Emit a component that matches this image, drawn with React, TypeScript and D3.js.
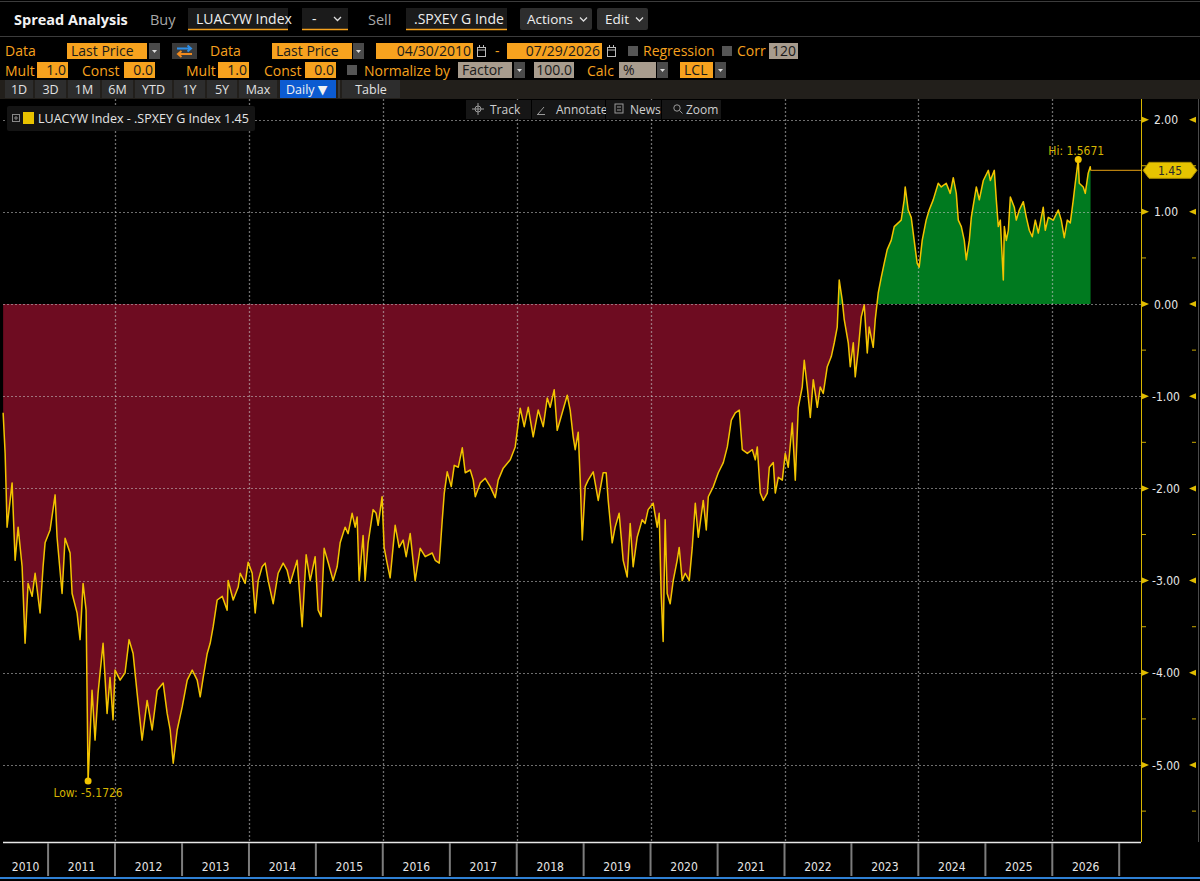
import { useMemo } from 'react'

import { area, line, maxIndex, minIndex, scaleLinear, scaleUtc } from 'd3'

// spread, LUACYW Index - .SPXEY G Index as [decimal year, value]
const drawdown2010to2013: [number, number][] = [
  [2010.328, -1.18], [2010.358, -1.62], [2010.373, -2.02], [2010.387, -2.42], [2010.462, -1.94],
  [2010.507, -2.78], [2010.552, -2.42], [2010.612, -2.85], [2010.656, -3.68], [2010.701, -3.03],
  [2010.761, -3.17], [2010.806, -2.92], [2010.88, -3.35], [2010.925, -2.85], [2010.955, -2.59],
  [2011.03, -2.45], [2011.105, -2.07], [2011.134, -2.53], [2011.209, -3.14], [2011.254, -2.54],
  [2011.329, -2.7], [2011.359, -3.14], [2011.433, -3.35], [2011.478, -3.64], [2011.523, -3.03],
  [2011.568, -3.32], [2011.598, -5.1726], [2011.657, -4.19], [2011.702, -4.73], [2011.747, -4.22],
  [2011.777, -4.0], [2011.822, -3.68], [2011.882, -4.44], [2011.926, -4.05], [2011.971, -4.51],
  [2012.001, -3.97], [2012.076, -4.08], [2012.15, -4.0], [2012.21, -3.64], [2012.27, -3.79],
  [2012.33, -4.22], [2012.404, -4.73], [2012.479, -4.3], [2012.554, -4.62], [2012.629, -4.19],
  [2012.718, -4.11], [2012.778, -4.44], [2012.823, -4.62], [2012.868, -4.98], [2012.927, -4.62],
  [2013.002, -4.37], [2013.077, -4.08], [2013.152, -3.97], [2013.226, -4.08], [2013.271, -4.26],
  [2013.316, -4.05], [2013.376, -3.79], [2013.42, -3.68], [2013.465, -3.5], [2013.525, -3.21],
  [2013.6, -3.17], [2013.674, -3.32], [2013.689, -3.0], [2013.764, -3.21], [2013.839, -3.07],
  [2013.869, -2.92], [2013.943, -3.03], [2013.988, -2.8],
]

const recovery2014to2018: [number, number][] = [
  [2014.048, -2.92], [2014.093, -3.35], [2014.138, -3.0], [2014.197, -2.85], [2014.242, -2.81],
  [2014.287, -3.0], [2014.362, -3.25], [2014.436, -2.92], [2014.511, -2.81], [2014.571, -2.89],
  [2014.616, -3.03], [2014.72, -2.78], [2014.795, -3.5], [2014.855, -2.72], [2014.915, -3.0],
  [2014.989, -2.74], [2015.034, -3.32], [2015.079, -3.39], [2015.124, -2.65], [2015.183, -2.8],
  [2015.258, -3.0], [2015.318, -2.85], [2015.363, -2.59], [2015.437, -2.42], [2015.482, -2.49],
  [2015.542, -2.27], [2015.587, -2.42], [2015.617, -2.31], [2015.647, -3.0], [2015.706, -2.51],
  [2015.736, -3.0], [2015.781, -2.59], [2015.856, -2.23], [2015.901, -2.27], [2015.931, -2.4],
  [2015.99, -2.09], [2016.02, -2.64], [2016.065, -2.81], [2016.11, -2.97], [2016.185, -2.4],
  [2016.244, -2.64], [2016.304, -2.56], [2016.349, -2.74], [2016.409, -2.49], [2016.483, -3.0],
  [2016.558, -2.65], [2016.633, -2.74], [2016.737, -2.7], [2016.782, -2.78], [2016.842, -2.81],
  [2016.887, -2.34], [2016.917, -2.05], [2016.961, -1.82], [2017.021, -1.98], [2017.066, -1.75],
  [2017.126, -1.77], [2017.186, -1.56], [2017.23, -1.83], [2017.305, -1.8], [2017.35, -1.91],
  [2017.38, -2.09], [2017.455, -1.94], [2017.529, -1.89], [2017.604, -1.98], [2017.679, -2.1],
  [2017.723, -1.91], [2017.798, -1.78], [2017.903, -1.69], [2017.977, -1.55], [2018.052, -1.13],
  [2018.112, -1.33], [2018.172, -1.12], [2018.246, -1.44], [2018.321, -1.15], [2018.396, -1.33],
  [2018.456, -1.02], [2018.5, -1.12], [2018.56, -0.93], [2018.605, -1.37], [2018.68, -1.18],
  [2018.755, -0.99], [2018.799, -1.15], [2018.844, -1.44], [2018.874, -1.58], [2018.919, -1.39],
  [2018.949, -1.91], [2018.979, -2.56],
]

const swing2019to2022: [number, number][] = [
  [2019.023, -1.98], [2019.068, -1.91], [2019.143, -1.82], [2019.218, -2.13], [2019.292, -1.83],
  [2019.337, -1.83], [2019.367, -2.13], [2019.427, -2.59], [2019.471, -2.42], [2019.531, -2.27],
  [2019.591, -2.78], [2019.651, -2.96], [2019.696, -2.38], [2019.74, -2.85], [2019.8, -2.53],
  [2019.875, -2.34], [2019.919, -2.38], [2019.964, -2.23], [2020.039, -2.16], [2020.099, -2.42],
  [2020.129, -2.27], [2020.158, -3.14], [2020.188, -3.66], [2020.218, -2.34], [2020.248, -3.14],
  [2020.293, -3.25], [2020.338, -3.0], [2020.397, -2.78], [2020.427, -2.64], [2020.472, -3.0],
  [2020.517, -2.92], [2020.577, -3.0], [2020.622, -2.64], [2020.667, -2.16], [2020.712, -2.53],
  [2020.786, -2.13], [2020.831, -2.45], [2020.861, -2.09], [2020.936, -1.98], [2021.01, -1.83],
  [2021.085, -1.72], [2021.145, -1.55], [2021.205, -1.26], [2021.264, -1.18], [2021.324, -1.15],
  [2021.369, -1.58], [2021.444, -1.62], [2021.519, -1.58], [2021.563, -1.69], [2021.593, -1.55],
  [2021.638, -2.05], [2021.683, -2.13], [2021.743, -2.05], [2021.773, -1.77], [2021.832, -1.72],
  [2021.862, -2.05], [2021.907, -1.88], [2021.967, -1.91], [2022.011, -1.62], [2022.056, -1.77],
  [2022.116, -1.29], [2022.161, -1.91], [2022.206, -1.12], [2022.265, -0.9], [2022.295, -0.61],
  [2022.34, -0.9], [2022.385, -1.23], [2022.43, -0.82], [2022.49, -1.12], [2022.534, -0.9],
  [2022.579, -0.97], [2022.639, -0.68], [2022.699, -0.57], [2022.744, -0.42], [2022.788, -0.25],
  [2022.818, 0.26], [2022.863, 0.04], [2022.893, -0.17], [2022.953, -0.42], [2022.983, -0.68],
]

const positive2023to2026: [number, number][] = [
  [2023.028, -0.42], [2023.057, -0.79], [2023.102, -0.5], [2023.147, -0.14], [2023.192, -0.01],
  [2023.237, -0.53], [2023.266, -0.25], [2023.326, -0.47], [2023.356, -0.17], [2023.401, 0.12],
  [2023.446, 0.29], [2023.49, 0.44], [2023.535, 0.59], [2023.595, 0.69], [2023.64, 0.84],
  [2023.7, 0.88], [2023.744, 0.91], [2023.789, 1.13], [2023.804, 1.27], [2023.849, 1.02],
  [2023.894, 0.94], [2023.938, 0.69], [2023.983, 0.44], [2024.013, 0.4], [2024.058, 0.69],
  [2024.117, 0.91], [2024.162, 1.02], [2024.222, 1.13], [2024.297, 1.31], [2024.342, 1.27],
  [2024.416, 1.31], [2024.476, 1.2], [2024.521, 1.37], [2024.566, 1.2], [2024.596, 0.91],
  [2024.641, 0.84], [2024.685, 0.69], [2024.715, 0.48], [2024.76, 0.69], [2024.79, 0.94],
  [2024.865, 1.27], [2024.909, 1.13], [2024.969, 1.34], [2025.044, 1.45], [2025.074, 1.34],
  [2025.133, 1.45], [2025.163, 1.13], [2025.193, 0.84], [2025.223, 0.91], [2025.268, 0.26],
  [2025.283, 0.84], [2025.313, 0.69], [2025.343, 0.8], [2025.373, 1.16], [2025.432, 1.05],
  [2025.462, 0.91], [2025.507, 1.02], [2025.567, 1.11], [2025.612, 0.94], [2025.656, 0.8],
  [2025.701, 0.73], [2025.746, 0.91], [2025.791, 0.77], [2025.865, 1.05], [2025.895, 0.8],
  [2025.94, 0.94], [2026.015, 0.91], [2026.089, 1.02], [2026.134, 0.91], [2026.179, 0.72],
  [2026.224, 0.91], [2026.269, 0.88], [2026.314, 1.13], [2026.343, 1.31], [2026.388, 1.5671],
  [2026.403, 1.31], [2026.463, 1.27], [2026.493, 1.2], [2026.537, 1.42], [2026.567, 1.49],
  [2026.572, 1.45],
]

const yTicks = [2, 1, 0, -1, -2, -3, -4, -5]
const yMinorTicks = [1.5, 0.5, -0.5, -1.5, -2.5, -3.5, -4.5, -5.5]
const yearLabels = [2010, 2011, 2012, 2013, 2014, 2015, 2016, 2017, 2018, 2019, 2020, 2021, 2022, 2023, 2024, 2025, 2026]
const gridYears = [2012, 2014, 2016, 2018, 2020, 2022, 2024, 2026]
const periodButtons = ['1D', '3D', '1M', '6M', 'YTD', '1Y', '5Y', 'Max']
const chartTools = ['Track', 'Annotate', 'News', 'Zoom']

const ORANGE = '#f7a21e'
const TAN = '#a89c8e'
const LINE = '#f2c400'
const HEADER_FONT = '"Open Sans", "DejaVu Sans", sans-serif'
const AXIS_FONT = '"DejaVu Sans Condensed", "DejaVu Sans", sans-serif'

const plot = { left: 3, right: 1141, top: 99, bottom: 842 }

function yearToDate(t: number) {
  const year = Math.floor(t)
  const start = Date.UTC(year, 0, 1)
  const end = Date.UTC(year + 1, 0, 1)
  return new Date(start + (t - year) * (end - start))
}

function Dropdown({ x, y }: { x: number; y: number }) {
  return (
    <g>
      <rect x={x} y={y} width={11} height={16} fill="#4a4a4a" />
      <path d={`M${x + 3} ${y + 7} h5 l-2.5 3 z`} fill="#ddd" />
    </g>
  )
}

function Calendar({ x, y }: { x: number; y: number }) {
  return (
    <g stroke="#bbb" fill="none" strokeWidth={1}>
      <rect x={x + 0.5} y={y + 2.5} width={8} height={9} />
      <line x1={x} x2={x + 9} y1={y + 5} y2={y + 5} />
      <line x1={x + 2.5} x2={x + 2.5} y1={y} y2={y + 3} />
      <line x1={x + 6.5} x2={x + 6.5} y1={y} y2={y + 3} />
    </g>
  )
}

function Field({ x, y, w, label, fill, color = '#1a1a1a', anchor = 'start' }: {
  x: number; y: number; w: number; label: string; fill: string; color?: string; anchor?: 'start' | 'end'
}) {
  return (
    <g>
      <rect x={x} y={y} width={w} height={16} fill={fill} />
      <text
        x={anchor === 'end' ? x + w - 2 : x + 4}
        y={y + 13}
        fill={color}
        fontSize={14}
        textAnchor={anchor}
      >
        {label}
      </text>
    </g>
  )
}

export default function App() {
  const series = useMemo(
    () =>
      [...drawdown2010to2013, ...recovery2014to2018, ...swing2019to2022, ...positive2023to2026].map(
        ([t, value]) => ({ date: yearToDate(t), value })
      ),
    []
  )

  const x = scaleUtc()
    .domain([new Date(Date.UTC(2010, 3, 30)), new Date(Date.UTC(2027, 3, 30))])
    .range([plot.left, plot.right])
  const y = scaleLinear().domain([-5.835, 2.213]).range([plot.bottom, plot.top + 1])

  const zeroY = y(0)
  const fillPath = area<{ date: Date; value: number }>()
    .x(d => x(d.date))
    .y0(zeroY)
    .y1(d => y(d.value))(series) ?? ''
  const linePath = line<{ date: Date; value: number }>()
    .x(d => x(d.date))
    .y(d => y(d.value))(series) ?? ''

  const hi = series[maxIndex(series, d => d.value)]
  const lo = series[minIndex(series, d => d.value)]
  const last = series[series.length - 1]

  const yearStart = (year: number) => x(new Date(Date.UTC(year, 0, 1)))

  const toolWidths = [66, 74, 56, 60]
  let toolX = 466

  let buttonX = 5
  const buttonWidths = [28, 31, 32, 31, 37, 31, 30, 38]

  return (
    <svg
      width={1200}
      height={881}
      style={{ position: 'absolute', left: 0, top: 0, background: '#000', display: 'block' }}
      fontFamily={HEADER_FONT}
    >
      <defs>
        <clipPath id="above-zero">
          <rect x={plot.left} y={plot.top} width={plot.right - plot.left} height={zeroY - plot.top} />
        </clipPath>
        <clipPath id="below-zero">
          <rect x={plot.left} y={zeroY} width={plot.right - plot.left} height={plot.bottom - zeroY} />
        </clipPath>
      </defs>

      <rect x={0} y={0} width={1200} height={881} fill="#000" />

      {/* header row 1 */}
      <line x1={0} x2={1200} y1={1.5} y2={1.5} stroke="#3c3c3c" />
      <text x={14} y={25} fill="#f2f2f2" fontSize={14.5} fontWeight={700}>Spread Analysis</text>
      <text x={150} y={25} fill="#a8a8a8" fontSize={14.5}>Buy</text>
      <rect x={188} y={8} width={100} height={21} fill="#1b1b1b" />
      <line x1={188} x2={288} y1={29.5} y2={29.5} stroke={ORANGE} strokeWidth={1.5} />
      <text x={196} y={24} fill="#eee" fontSize={14}>LUACYW Index</text>
      <rect x={302} y={8} width={46} height={21} fill="#1b1b1b" />
      <line x1={302} x2={348} y1={29.5} y2={29.5} stroke={ORANGE} strokeWidth={1.5} />
      <text x={312} y={24} fill="#eee" fontSize={14}>-</text>
      <path d="M334 17 l3.5 3.5 l3.5 -3.5" stroke="#ddd" fill="none" strokeWidth={1.3} />
      <text x={368} y={25} fill="#a8a8a8" fontSize={14.5}>Sell</text>
      <rect x={406} y={8} width={101} height={21} fill="#1b1b1b" />
      <line x1={406} x2={507} y1={29.5} y2={29.5} stroke={ORANGE} strokeWidth={1.5} />
      <text x={414} y={24} fill="#eee" fontSize={14}>.SPXEY G Inde</text>
      <rect x={520} y={8} width={72} height={22} rx={2} fill="#2e2e2e" />
      <text x={527} y={24} fill="#eee" fontSize={13.5}>Actions</text>
      <path d="M580 17.5 l3.5 3.5 l3.5 -3.5" stroke="#ddd" fill="none" strokeWidth={1.3} />
      <rect x={597} y={8} width={51} height={22} rx={2} fill="#2e2e2e" />
      <text x={605} y={24} fill="#eee" fontSize={13.5}>Edit</text>
      <path d="M636 17.5 l3.5 3.5 l3.5 -3.5" stroke="#ddd" fill="none" strokeWidth={1.3} />
      <line x1={0} x2={1200} y1={36.5} y2={36.5} stroke="#3c3c3c" />

      {/* header row 2 */}
      <g fontSize={14} fill={ORANGE}>
        <text x={5} y={56}>Data</text>
        <text x={210} y={56}>Data</text>
        <text x={495} y={56}>-</text>
        <text x={643} y={56}>Regression</text>
        <text x={737} y={56}>Corr</text>
      </g>
      <Field x={67} y={43} w={80} label="Last Price" fill={ORANGE} />
      <Dropdown x={149} y={43} />
      <rect x={172} y={43} width={25} height={16} fill="#3a3a3a" />
      <path d="M177 48.5 H191 M187.5 45.5 L191 48.5 L187.5 51.5" stroke="#2f8fe8" strokeWidth={2} fill="none" />
      <path d="M192 54 H178 M181.5 51 L178 54 L181.5 57" stroke="#f08a1e" strokeWidth={2} fill="none" />
      <Field x={272} y={43} w={80} label="Last Price" fill={ORANGE} />
      <Dropdown x={353} y={43} />
      <Field x={376} y={43} w={97} label="04/30/2010" fill={ORANGE} anchor="end" />
      <Calendar x={477} y={45} />
      <Field x={507} y={43} w={95} label="07/29/2026" fill={ORANGE} anchor="end" />
      <Calendar x={607} y={45} />
      <rect x={628} y={46} width={10} height={10} fill="#555" />
      <rect x={722} y={46} width={10} height={10} fill="#555" />
      <Field x={769} y={43} w={29} label="120" fill={TAN} anchor="end" />

      {/* header row 3 */}
      <g fontSize={14} fill={ORANGE}>
        <text x={5} y={76}>Mult</text>
        <text x={82} y={76}>Const</text>
        <text x={186} y={76}>Mult</text>
        <text x={264} y={76}>Const</text>
        <text x={364} y={76}>Normalize by</text>
        <text x={587} y={76}>Calc</text>
      </g>
      <Field x={37} y={62} w={31} label="1.0" fill={ORANGE} anchor="end" />
      <Field x={124} y={62} w={31} label="0.0" fill={ORANGE} anchor="end" />
      <Field x={218} y={62} w={31} label="1.0" fill={ORANGE} anchor="end" />
      <Field x={305} y={62} w={31} label="0.0" fill={ORANGE} anchor="end" />
      <rect x={347} y={65} width={10} height={10} fill="#555" />
      <Field x={458} y={62} w={54} label="Factor" fill={TAN} />
      <Dropdown x={514} y={62} />
      <Field x={534} y={62} w={40} label="100.0" fill={TAN} anchor="end" />
      <Field x={619} y={62} w={37} label="%" fill={TAN} />
      <Dropdown x={657} y={62} />
      <Field x={680} y={62} w={33} label="LCL" fill={ORANGE} />
      <Dropdown x={715} y={62} />

      {/* period buttons */}
      <rect x={0} y={80} width={1200} height={19} fill="#221f1b" />
      {periodButtons.map((label, i) => {
        const bx = buttonX
        const w = buttonWidths[i]
        buttonX += w + 2
        return (
          <g key={label}>
            <rect x={bx} y={80} width={w} height={18} fill="#2d2d2d" />
            <text x={bx + w / 2} y={94} fill="#e2e2e2" fontSize={12.5} textAnchor="middle">{label}</text>
          </g>
        )
      })}
      <rect x={280} y={80} width={56} height={18} fill="#0c5bd1" />
      <text x={286} y={94} fill="#f2f2f2" fontSize={12.5}>Daily ▼</text>
      <rect x={338} y={80} width={2} height={18} fill="#3a3a3a" />
      <rect x={342} y={80} width={58} height={18} fill="#2d2d2d" />
      <text x={371} y={94} fill="#e2e2e2" fontSize={12.5} textAnchor="middle">Table</text>

      {/* fills split at zero */}
      <path d={fillPath} fill="#007a1f" clipPath="url(#above-zero)" />
      <path d={fillPath} fill="#6e0c21" clipPath="url(#below-zero)" />

      {/* grid */}
      <g stroke="#c8c8c8" strokeOpacity={0.55} strokeDasharray="2,2">
        {yTicks.map(t => (
          <line key={t} x1={plot.left} x2={plot.right} y1={Math.round(y(t)) + 0.5} y2={Math.round(y(t)) + 0.5} />
        ))}
        {gridYears.map(year => (
          <line
            key={year}
            x1={Math.round(yearStart(year)) + 0.5}
            x2={Math.round(yearStart(year)) + 0.5}
            y1={plot.top}
            y2={plot.bottom}
            strokeWidth={1.3}
          />
        ))}
      </g>

      {/* spread line */}
      <path d={linePath} fill="none" stroke={LINE} strokeWidth={1.5} strokeLinejoin="round" />

      {/* hi / low markers */}
      <circle cx={x(hi.date)} cy={y(hi.value)} r={3.5} fill={LINE} />
      <text x={x(hi.date) - 2} y={y(hi.value) - 5} fill="#d6b400" fontSize={12} fontFamily={AXIS_FONT} textAnchor="middle">
        {`Hi: ${hi.value.toFixed(4)}`}
      </text>
      <circle cx={x(lo.date)} cy={y(lo.value)} r={3.5} fill={LINE} />
      <text x={x(lo.date)} y={y(lo.value) + 16} fill="#d6b400" fontSize={12} fontFamily={AXIS_FONT} textAnchor="middle">
        {`Low: ${lo.value.toFixed(4)}`}
      </text>

      {/* chart tools */}
      {chartTools.map((label, i) => {
        const tx = toolX
        const w = toolWidths[i]
        toolX += w
        return (
          <g key={label}>
            <rect x={tx} y={100} width={w - 1} height={19} fill="#161616" />
            <text x={tx + 24} y={113.5} fill="#cfcfcf" fontSize={12}>{label}</text>
          </g>
        )
      })}
      <g stroke="#9a9a9a" fill="none" strokeWidth={1}>
        <circle cx={478} cy={109} r={3} />
        <path d="M472 109 h12 M478 103 v12" />
        <path d="M538 114 l6 -7 M537 114.5 h8" />
        <rect x={615} y={104} width={8} height={9} />
        <path d="M617 107 h4 M617 110 h4" />
        <circle cx={677} cy={108} r={3.2} />
        <path d="M679.5 110.5 l3 3" />
      </g>

      {/* legend */}
      <rect x={7} y={106} width={248} height={25} rx={2} fill="#141414" />
      <rect x={12.5} y={114.5} width={7} height={7} fill="none" stroke="#888" />
      <path d="M14 118 h4 M16 116 v4" stroke="#888" />
      <rect x={23} y={112} width={11} height={12} fill="#e8c200" />
      <text x={38} y={123} fill="#e4e4e4" fontSize={12.5}>
        {`LUACYW Index - .SPXEY G Index ${last.value.toFixed(2)}`}
      </text>

      {/* right axis */}
      <line x1={plot.right + 0.5} x2={plot.right + 0.5} y1={plot.top} y2={plot.bottom} stroke="#d9b600" />
      <line x1={1198.5} x2={1198.5} y1={plot.top} y2={plot.bottom} stroke="#4a4a4a" />
      {yTicks.map(t => {
        const ty = y(t)
        return (
          <g key={t}>
            <path d={`M${plot.right + 1} ${ty - 3} L${plot.right + 8} ${ty} L${plot.right + 1} ${ty + 3} z`} fill="#e0bc00" />
            <path d={`M1196 ${ty - 3} L1189 ${ty} L1196 ${ty + 3} z`} fill="#e0bc00" />
            <text x={1166} y={ty + 4.5} fill="#e6e6e6" fontSize={12} fontFamily={AXIS_FONT} textAnchor="middle">
              {t.toFixed(2)}
            </text>
          </g>
        )
      })}
      {yMinorTicks.map(t => (
        <g key={t} stroke="#c9a800">
          <line x1={plot.right + 1} x2={plot.right + 5} y1={y(t)} y2={y(t)} />
          <line x1={1192} x2={1196} y1={y(t)} y2={y(t)} />
        </g>
      ))}

      {/* last value */}
      <line x1={x(last.date)} x2={plot.right} y1={y(last.value)} y2={y(last.value)} stroke="#b7800f" strokeWidth={1.3} />
      <path
        d={`M1143 ${y(last.value)} L1149 ${y(last.value) - 8} L1191 ${y(last.value) - 8} L1197 ${y(last.value)} L1191 ${y(last.value) + 8} L1149 ${y(last.value) + 8} z`}
        fill="#e6c300"
        stroke="#a88c00"
      />
      <text x={1170} y={y(last.value) + 4.5} fill="#2a2a2a" fontSize={12} fontFamily={AXIS_FONT} textAnchor="middle">
        {last.value.toFixed(2)}
      </text>

      {/* bottom axis */}
      <line x1={plot.left} x2={plot.right} y1={plot.bottom + 0.5} y2={plot.bottom + 0.5} stroke="#e8e8e8" strokeWidth={1.5} />
      {yearLabels.map(year => {
        const start = Math.max(yearStart(year), plot.left)
        const end = Math.min(yearStart(year + 1), plot.right)
        return (
          <g key={year}>
            <line x1={yearStart(year + 1)} x2={yearStart(year + 1)} y1={plot.bottom + 1} y2={876} stroke="#7c7c7c" strokeWidth={2} />
            <text x={(start + end) / 2} y={871} fill="#e6e6e6" fontSize={12} fontFamily={AXIS_FONT} textAnchor="middle">
              {year}
            </text>
          </g>
        )
      })}
      <line x1={0} x2={1200} y1={878} y2={878} stroke="#2f80d4" strokeWidth={2} />
    </svg>
  )
}
